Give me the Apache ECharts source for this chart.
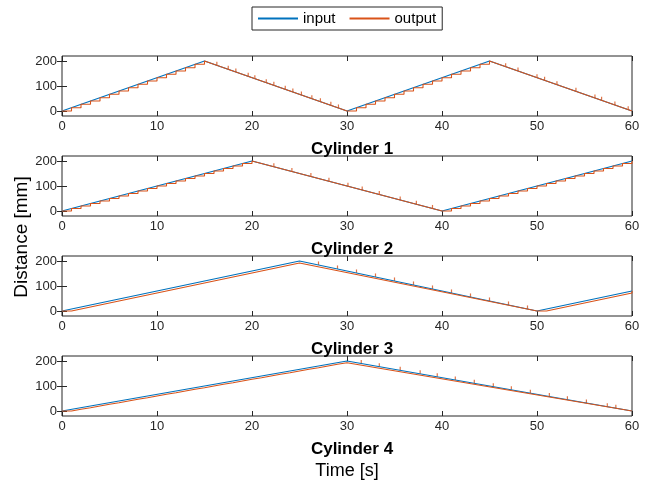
<!DOCTYPE html>
<html>
<head>
<meta charset="utf-8">
<script src="https://cdn.jsdelivr.net/npm/echarts@6/dist/echarts.min.js"></script>
<style>
    html, body { margin: 0; padding: 0; background: #fff; }
    #main { width: 659px; height: 490px; }
</style>
</head>
<body>
<div id="main"></div>
<script>
    // 刻度
    var xTicks = [0, 10, 20, 30, 40, 50, 60];
    var yTicks = [0, 100, 200];
    var titles = ['Cylinder 1', 'Cylinder 2', 'Cylinder 3', 'Cylinder 4'];

    // input: 三角波顶点
    var in1T = [0, 15, 30, 45, 60];
    var in1V = [0, 200, 0, 200, 0];
    var in2T = [0, 20, 40, 60];
    var in2V = [0, 200, 0, 200];
    var in3T = [0, 25, 50, 60];
    var in3V = [0, 200, 0, 80];
    var in4T = [0, 30, 60];
    var in4V = [0, 200, 0];

    // output: 上升段阶梯 (每1s一个采样)
    var rise1Start = [0, 30];
    var rise1V = [
        [0, 13, 27, 40, 53, 67, 80, 93, 107, 120, 133, 147, 160, 173, 187, 200],
        [0, 13, 27, 40, 53, 67, 80, 93, 107, 120, 133, 147, 160, 173, 187, 200]
    ];
    var rise2Start = [0, 40];
    var rise2V = [
        [0, 10, 20, 30, 40, 50, 60, 70, 80, 90, 100, 110, 120, 130, 140, 150, 160, 170, 180, 190, 200],
        [0, 10, 20, 30, 40, 50, 60, 70, 80, 90, 100, 110, 120, 130, 140, 150, 160, 170, 180, 190, 200]
    ];
    var rise3Start = [0, 50];
    var rise3V = [
        [0, 8, 16, 24, 32, 40, 48, 56, 64, 72, 80, 88, 96, 104, 112, 120, 128, 136, 144, 152, 160, 168, 176, 184, 192, 200],
        [0, 8, 16, 24, 32, 40, 48, 56, 64, 72, 80]
    ];
    var rise4Start = [0];
    var rise4V = [
        [0, 7, 13, 20, 27, 33, 40, 47, 53, 60, 67, 73, 80, 87, 93, 100, 107, 113, 120, 127, 133, 140, 147, 153, 160, 167, 173, 180, 187, 193, 200]
    ];

    // output: 下降段的小尖峰
    var spike1T = [16.3, 17.5, 18.3, 19.6, 20.3, 21.5, 22.3, 23.5, 24.3, 25.2, 26.3, 27.2, 28.3, 29.1,
        46.7, 48.0, 50.0, 50.8, 52.1, 54.1, 56.1, 56.8, 58.2, 59.6];
    var spike1V = [183, 167, 156, 139, 129, 113, 103, 87, 76, 64, 49, 37, 23, 12,
        177, 160, 133, 123, 105, 79, 52, 43, 24, 5];
    var spike2T = [22.3, 24.2, 26.2, 28.1, 30.1, 31.6, 33.4, 35.6, 37.3, 39.0];
    var spike2V = [177, 158, 138, 119, 99, 84, 66, 44, 27, 10];
    var spike3T = [27, 29, 31, 33, 35, 37, 39, 41, 43, 45, 47, 49];
    var spike3V = [184, 168, 152, 136, 120, 104, 88, 72, 56, 40, 24, 8];
    var spike4T = [31.5, 33.4, 35.6, 37.7, 39.5, 41.4, 43.4, 45.4, 47.3, 49.3, 51.3, 53.2, 55.2, 57.4, 58.3];
    var spike4V = [190, 177, 163, 149, 137, 124, 111, 97, 85, 71, 58, 45, 32, 17, 11];

    var inT = [in1T, in2T, in3T, in4T];
    var inV = [in1V, in2V, in3V, in4V];
    var riseStart = [rise1Start, rise2Start, rise3Start, rise4Start];
    var riseV = [rise1V, rise2V, rise3V, rise4V];
    var spikeT = [spike1T, spike2T, spike3T, spike4T];
    var spikeV = [spike1V, spike2V, spike3V, spike4V];

    var BLUE = '#0072BD', ORANGE = '#D95319', AX = '#262626';
    var FONT = 'Liberation Sans';

    function zip(a, b) {
        var r = [];
        for (var i = 0; i < a.length; i++) r.push([a[i], b[i]]);
        return r;
    }

    // 由顶点 + 阶梯生成 output 折线
    function outputPoints(n) {
        var t = inT[n], v = inV[n], pts = [];
        for (var i = 0; i < t.length - 1; i++) {
            if (v[i + 1] > v[i]) {
                var k = riseStart[n].indexOf(t[i]);
                var s = riseV[n][k];
                for (var j = 0; j < s.length - 1; j++) {
                    pts.push([t[i] + j, s[j]]);
                    pts.push([t[i] + j + 1, s[j]]);
                }
                pts.push([t[i] + s.length - 1, s[s.length - 1]]);
            } else {
                pts.push([t[i], v[i]]);
                pts.push([t[i + 1], v[i + 1]]);
            }
        }
        return pts;
    }

    function makeX(n, pos, label) {
        return {
            type: 'value', gridIndex: n, position: pos, min: 0, max: 60, interval: 10,
            axisLine: {show: false, onZero: false},
            axisTick: {show: true, inside: true, length: 5, lineStyle: {color: AX}},
            axisLabel: {show: label, color: AX, fontSize: 13, fontFamily: FONT, margin: 4},
            splitLine: {show: false}
        };
    }
    function makeY(n, pos, label) {
        return {
            type: 'value', gridIndex: n, position: pos, min: -20, max: 220,
            axisLine: {show: false},
            axisTick: {show: true, inside: true, length: 5, lineStyle: {color: AX}, customValues: yTicks},
            axisLabel: {show: label, color: AX, fontSize: 13, fontFamily: FONT, margin: 5, customValues: yTicks},
            splitLine: {show: false}
        };
    }

    var grids = [], xAxes = [], yAxes = [], series = [], titleList = [];
    for (var n = 0; n < 4; n++) {
        var gTop = 56 + n * 100;
        grids.push({left: 62, width: 570, top: gTop, height: 60,
            show: true, borderColor: AX, borderWidth: 1, backgroundColor: 'transparent'});
        xAxes.push(makeX(n, 'bottom', true));
        xAxes.push(makeX(n, 'top', false));
        yAxes.push(makeY(n, 'left', true));
        yAxes.push(makeY(n, 'right', false));

        series.push({
            name: 'input', type: 'line', xAxisIndex: 2 * n, yAxisIndex: 2 * n,
            data: zip(inT[n], inV[n]), symbol: 'none',
            lineStyle: {color: BLUE, width: 1.2}, itemStyle: {color: BLUE}
        });
        series.push({
            name: 'output', type: 'line', xAxisIndex: 2 * n, yAxisIndex: 2 * n,
            data: outputPoints(n), symbol: 'none',
            lineStyle: {color: ORANGE, width: 1.1}, itemStyle: {color: ORANGE}
        });
        series.push({
            name: 'output', type: 'scatter', xAxisIndex: 2 * n, yAxisIndex: 2 * n,
            data: zip(spikeT[n], spikeV[n]), symbol: 'rect', symbolSize: [1.2, 3.5],
            symbolOffset: [0, -1.8], itemStyle: {color: ORANGE}
        });

        titleList.push({
            text: titles[n], left: 347, top: gTop + 80, textAlign: 'center',
            textStyle: {fontSize: 17, fontWeight: 'bold', color: '#000', fontFamily: FONT}
        });
    }

    var myChart = echarts.init(document.getElementById('main'));
    var option = {
        animation: false,
        title: titleList,
        legend: {
            left: 252, top: 7,
            padding: [4, 6, 4, 6],
            borderColor: AX, borderWidth: 1,
            itemWidth: 40, itemHeight: 2, itemGap: 14,
            textStyle: {fontSize: 15, fontFamily: FONT, color: '#000'},
            data: [{name: 'input', icon: 'rect'}, {name: 'output', icon: 'rect'}]
        },
        grid: grids,
        xAxis: xAxes,
        yAxis: yAxes,
        series: series,
        graphic: [
            {type: 'text', x: 347, y: 471, style: {text: 'Time [s]', fontSize: 18, fontFamily: FONT, fill: '#000', align: 'center', verticalAlign: 'middle'}},
            {type: 'text', x: 22, y: 237, rotation: Math.PI / 2, style: {text: 'Distance [mm]', fontSize: 19, fontFamily: FONT, fill: '#000', align: 'center', verticalAlign: 'middle'}}
        ]
    };
    myChart.setOption(option);
</script>
</body>
</html>
